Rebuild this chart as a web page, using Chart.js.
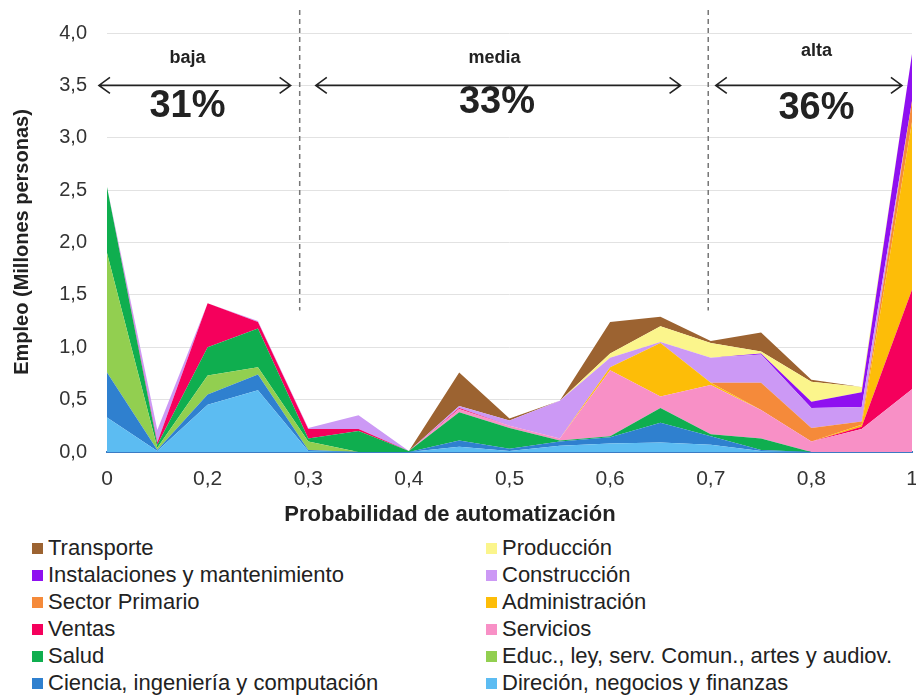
<!DOCTYPE html>
<html>
<head>
<meta charset="utf-8">
<script src="https://cdn.jsdelivr.net/npm/chart.js@4.4.1/dist/chart.umd.min.js"></script>
<style>
  body { margin: 0; background: #fff; font-family: "Liberation Sans", Arial, sans-serif; }
  #wrap { position: relative; width: 916px; height: 695px; overflow: hidden; }
  #box { position: absolute; left: 0; top: 0; width: 916px; height: 530px; }
  .leg { position: absolute; font-size: 22px; color: #222; line-height: 24px; white-space: nowrap; }
  .leg i { display: inline-block; width: 11px; height: 11px; margin-right: 5px; vertical-align: 1px; }
</style>
</head>
<body>
<div id="wrap">
  <div id="box"><canvas id="chart"></canvas></div>
  <div id="legend"></div>
</div>
<script>
// x categories (probabilidad de automatización) and the labels shown on the axis
const categories = ['0', '0,1', '0,2', '0,25', '0,3', '0,35', '0,4', '0,45', '0,5',
                    '0,55', '0,6', '0,65', '0,7', '0,75', '0,8', '0,9', '1'];
const xTickLabels = ['0', '0,2', '0,3', '0,4', '0,5', '0,6', '0,7', '0,8', '1'];
const yTicks = [0, 0.5, 1, 1.5, 2, 2.5, 3, 3.5, 4];

// empleo en millones, from the bottom of the stack to the top
const direccion    = [0.33, 0.01, 0.45, 0.59, 0.01, 0.00, 0.00, 0.05, 0.01, 0.06, 0.08, 0.09, 0.07, 0.01, 0.00, 0.00, 0.00];
const ciencia      = [0.43, 0.01, 0.10, 0.15, 0.01, 0.00, 0.00, 0.06, 0.02, 0.04, 0.06, 0.19, 0.08, 0.01, 0.00, 0.00, 0.00];
const educ         = [1.14, 0.02, 0.18, 0.07, 0.08, 0.00, 0.00, 0.00, 0.00, 0.00, 0.00, 0.00, 0.00, 0.00, 0.00, 0.00, 0.00];
const salud        = [0.63, 0.03, 0.27, 0.37, 0.03, 0.20, 0.01, 0.27, 0.20, 0.01, 0.01, 0.14, 0.02, 0.11, 0.00, 0.00, 0.00];
const servicios    = [0.00, 0.00, 0.00, 0.00, 0.00, 0.00, 0.00, 0.03, 0.02, 0.02, 0.63, 0.11, 0.47, 0.27, 0.10, 0.22, 0.60];
const ventas       = [0.00, 0.02, 0.42, 0.06, 0.09, 0.02, 0.00, 0.01, 0.00, 0.00, 0.00, 0.00, 0.00, 0.00, 0.00, 0.02, 0.95];
const administracion = [0.00, 0.00, 0.00, 0.00, 0.00, 0.00, 0.00, 0.00, 0.00, 0.00, 0.03, 0.51, 0.02, 0.00, 0.00, 0.02, 1.60];
const sectorPrimario = [0.00, 0.00, 0.00, 0.00, 0.00, 0.00, 0.00, 0.00, 0.00, 0.00, 0.00, 0.00, 0.00, 0.26, 0.13, 0.03, 0.20];
const construccion = [0.00, 0.12, 0.00, 0.01, 0.01, 0.13, 0.00, 0.02, 0.05, 0.36, 0.09, 0.01, 0.24, 0.27, 0.19, 0.14, 0.00];
const instalaciones = [0.00, 0.00, 0.00, 0.00, 0.00, 0.00, 0.00, 0.00, 0.00, 0.00, 0.00, 0.00, 0.00, 0.01, 0.06, 0.14, 0.45];
const produccion   = [0.00, 0.00, 0.00, 0.00, 0.00, 0.00, 0.00, 0.00, 0.00, 0.00, 0.04, 0.15, 0.14, 0.02, 0.19, 0.05, 0.00];
const transporte   = [0.00, 0.00, 0.00, 0.00, 0.00, 0.00, 0.00, 0.32, 0.02, 0.00, 0.30, 0.09, 0.02, 0.18, 0.02, 0.00, 0.00];

const series = [
  { label: 'Direción, negocios y finanzas', data: direccion, color: '#5cbcf2' },
  { label: 'Ciencia, ingeniería y computación', data: ciencia, color: '#2f80cf' },
  { label: 'Educ., ley, serv. Comun., artes y audiov.', data: educ, color: '#92cf50' },
  { label: 'Salud', data: salud, color: '#0fae4f' },
  { label: 'Servicios', data: servicios, color: '#f890c6' },
  { label: 'Ventas', data: ventas, color: '#f5005c' },
  { label: 'Administración', data: administracion, color: '#fdbd08' },
  { label: 'Sector Primario', data: sectorPrimario, color: '#f58a3a' },
  { label: 'Construcción', data: construccion, color: '#cc99f5' },
  { label: 'Instalaciones y mantenimiento', data: instalaciones, color: '#8f10f0' },
  { label: 'Producción', data: produccion, color: '#fbf58c' },
  { label: 'Transporte', data: transporte, color: '#9c6331' }
];

// legend layout: two columns, same order as the original picture
const legendLeft = ['Transporte', 'Instalaciones y mantenimiento', 'Sector Primario', 'Ventas', 'Salud', 'Ciencia, ingeniería y computación'];
const legendRight = ['Producción', 'Construcción', 'Administración', 'Servicios', 'Educ., ley, serv. Comun., artes y audiov.', 'Direción, negocios y finanzas'];

const FONT = '"Liberation Sans", Arial, sans-serif';
const comma = v => v.toFixed(1).replace('.', ',');

// dashed separators, arrows and the percentages (in category index / value units)
const regions = [
  { name: 'baja',  pct: '31%', from: -0.16, to: 3.65, labelX: 1.6, labelY: 3.76, pctX: 1.6, pctY: 3.3 },
  { name: 'media', pct: '33%', from: 4.15, to: 11.4, labelX: 7.7, labelY: 3.76, pctX: 7.75, pctY: 3.34 },
  { name: 'alta',  pct: '36%', from: 12.1, to: 15.8, labelX: 14.1, labelY: 3.83, pctX: 14.1, pctY: 3.28 }
];
const separators = [3.83, 11.95];

const overlay = {
  id: 'overlay',
  afterDraw(chart) {
    const { ctx, scales: { x, y } } = chart;
    const step = x.getPixelForValue(1) - x.getPixelForValue(0);
    const px = i => x.getPixelForValue(0) + i * step;
    ctx.save();

    // dashed vertical lines
    ctx.strokeStyle = '#777';
    ctx.lineWidth = 1.5;
    ctx.setLineDash([5, 4]);
    separators.forEach(s => {
      ctx.beginPath();
      ctx.moveTo(px(s), y.getPixelForValue(4.22));
      ctx.lineTo(px(s), y.getPixelForValue(1.35));
      ctx.stroke();
    });
    ctx.setLineDash([]);

    // double arrows
    ctx.strokeStyle = '#222';
    ctx.lineWidth = 1.6;
    const ay = y.getPixelForValue(3.5);
    regions.forEach(r => {
      const a = px(r.from), b = px(r.to);
      ctx.beginPath();
      ctx.moveTo(a, ay); ctx.lineTo(b, ay);
      ctx.moveTo(a + 11, ay - 8); ctx.lineTo(a, ay); ctx.lineTo(a + 11, ay + 8);
      ctx.moveTo(b - 11, ay - 8); ctx.lineTo(b, ay); ctx.lineTo(b - 11, ay + 8);
      ctx.stroke();

      ctx.fillStyle = '#222';
      ctx.textAlign = 'center';
      ctx.textBaseline = 'middle';
      ctx.font = 'bold 18px ' + FONT;
      ctx.fillText(r.name, px(r.labelX), y.getPixelForValue(r.labelY));
      ctx.font = 'bold 38px ' + FONT;
      ctx.fillText(r.pct, px(r.pctX), y.getPixelForValue(r.pctY));
    });

    // axis titles
    ctx.fillStyle = '#222';
    ctx.font = 'bold 22px ' + FONT;
    ctx.textAlign = 'center';
    ctx.textBaseline = 'middle';
    ctx.fillText('Probabilidad de automatización', 450, 515);
    ctx.font = 'bold 20px ' + FONT;
    ctx.translate(22, 242);
    ctx.rotate(-Math.PI / 2);
    ctx.fillText('Empleo (Millones personas)', 0, 0);
    ctx.restore();
  }
};

new Chart(document.getElementById('chart'), {
  type: 'line',
  data: {
    labels: categories,
    datasets: series.map((s, i) => ({
      label: s.label,
      data: s.data,
      backgroundColor: s.color,
      borderWidth: 0,
      pointRadius: 0,
      tension: 0,
      fill: i === 0 ? 'origin' : '-1'
    }))
  },
  options: {
    responsive: true,
    maintainAspectRatio: false,
    animation: false,
    layout: { padding: { top: 33, right: 4, left: 0, bottom: 0 } },
    plugins: { legend: { display: false }, tooltip: { enabled: false } },
    scales: {
      x: {
        offset: false,
        grid: { display: false, drawTicks: false },
        border: { color: '#3b7bc4', width: 2 },
        ticks: {
          autoSkip: false, maxRotation: 0, padding: 15,
          color: '#333', font: { size: 21, family: FONT },
          callback: (v, i) => (i % 2 === 0 ? xTickLabels[i / 2] : '')
        },
        afterFit: s => { s.height = 78; s.paddingLeft = 0; s.paddingRight = 0; }
      },
      y: {
        stacked: true,
        min: yTicks[0], max: yTicks[yTicks.length - 1],
        grid: { color: '#e2e2e2', drawTicks: false },
        border: { display: false },
        afterBuildTicks: s => { s.ticks = yTicks.map(v => ({ value: v })); },
        ticks: {
          padding: 20, color: '#333', font: { size: 20, family: FONT },
          callback: v => comma(v)
        },
        afterFit: s => { s.width = 107; }
      }
    }
  },
  plugins: [overlay]
});

// legend as plain text rows below the chart
const legend = document.getElementById('legend');
const colorOf = name => series.find(s => s.label === name).color;
[[legendLeft, 32], [legendRight, 486]].forEach(([names, left]) => {
  names.forEach((name, r) => {
    const row = document.createElement('div');
    row.className = 'leg';
    row.style.left = left + 'px';
    row.style.top = (536 + r * 27) + 'px';
    row.innerHTML = '<i style="background:' + colorOf(name) + '"></i>' + name;
    legend.appendChild(row);
  });
});
</script>
</body>
</html>
